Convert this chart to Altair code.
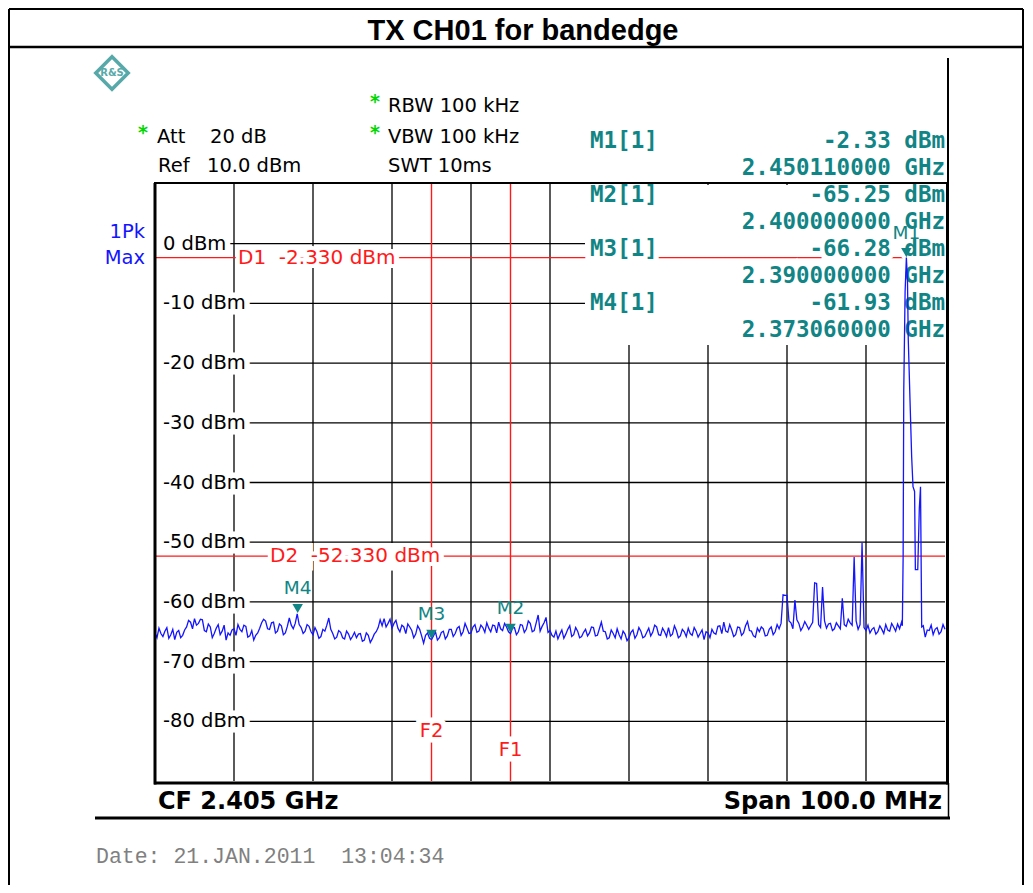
import altair as alt
import pandas as pd

# ---------------- data ----------------
start_mhz = 2355.0
step_mhz = 0.5
# trace samples at start + 0.5*i MHz
noise_dbm = [
    -65.2, -64.4, -65.8, -64.3, -65.5, -66.3, -64.8, -65.6, -64.2, -63.4,
    -62.8, -63.6, -63.0, -65.0, -64.2, -65.3, -63.8, -64.9, -66.4, -65.6,
    -64.5, -63.8, -65.0, -64.1, -65.7, -66.4, -65.2, -63.5, -63.2, -64.6,
    -63.4, -64.9, -64.0, -65.2, -62.7, -64.5, -62.0, -64.3, -64.9, -64.1,
    -65.5, -65.0, -65.8, -64.9, -62.7, -65.3, -65.9, -65.1, -66.2, -65.4,
    -65.8, -66.0, -65.3, -66.4, -65.6, -66.2, -65.0, -63.0, -62.8, -63.6,
    -64.4, -63.1, -65.0, -64.2, -63.7, -64.8, -65.4, -64.6, -66.9, -65.2,
    -66.3, -65.0, -66.0, -64.9, -65.7, -64.6, -65.3, -64.1, -65.0, -64.4,
    -65.2, -63.8, -64.9, -64.3, -63.5, -65.0, -64.0, -63.4, -64.8, -64.2,
    -65.3, -64.3, -65.0, -63.9, -64.6, -63.6, -64.8, -62.2, -64.1, -62.6,
    -64.8, -65.9, -66.2, -64.7, -65.4, -64.0, -65.5, -64.9, -65.8, -64.6,
    -65.2, -64.3, -65.6, -63.4, -65.0, -66.0, -65.3, -64.5, -66.2, -65.4,
    -66.0, -64.7, -65.5, -64.9, -65.8, -64.4, -65.1, -64.2, -65.6, -65.0,
    -64.3, -65.4, -64.8, -65.7, -65.0, -64.4, -65.6, -64.9, -65.3, -66.3,
    -65.2, -64.6, -65.4, -64.0, -63.4, -65.1, -64.7, -65.5, -64.3, -65.2,
    -63.3, -64.9, -65.9, -65.0, -64.5, -65.6, -64.2, -65.0, -64.5, -58.8,
    -58.9, -63.5, -59.7, -63.6, -64.2, -63.9, -64.0, -56.8, -63.8, -57.5,
    -64.4, -63.6, -64.5, -64.0, -59.4, -64.1, -63.5, -52.5, -64.6, -50.1,
    -64.8, -65.2, -64.3, -65.0, -64.6, -63.8, -64.9, -64.2, -63.7, -63.4,
    -64.0, -64.0, -64.0, -64.0, -64.0,
    -65.9, -64.8, -65.5, -64.3, -65.0, -64.6,
]
# trace samples half way between the above (start + 0.5*i + 0.25 MHz)
noise_mid_dbm = [
    -66.0, -65.3, -64.9, -66.1, -64.6, -65.1, -66.0, -64.7, -63.1, -64.5,
    -63.9, -62.9, -64.8, -63.7, -66.0, -64.4, -65.5, -63.9, -65.2, -64.7,
    -65.6, -64.6, -63.9, -65.9, -64.8, -65.6, -64.4, -62.9, -64.5, -63.5,
    -65.2, -63.7, -65.5, -64.1, -63.9, -63.6, -63.8, -65.3, -63.8, -65.0,
    -64.3, -66.1, -64.6, -63.9, -64.6, -66.2, -64.8, -66.0, -64.9, -66.3,
    -65.1, -65.4, -66.6, -65.2, -66.8, -65.4, -64.3, -64.0, -64.2, -62.9,
    -63.6, -64.4, -63.9, -65.3, -64.2, -66.0, -64.0, -65.7, -65.6, -66.1,
    -65.7, -66.4, -65.1, -66.2, -64.6, -65.8, -64.4, -65.6, -63.6, -65.3,
    -64.2, -65.1, -63.9, -65.1, -64.4, -63.9, -65.2, -64.5, -63.6, -65.0,
    -64.4, -65.5, -63.8, -65.1, -63.2, -65.0, -63.5, -64.9, -63.5, -65.1,
    -65.6, -64.9, -65.4, -66.1, -64.6, -65.8, -64.3, -66.0, -65.1, -65.7,
    -64.2, -65.7, -64.5, -64.9, -66.2, -64.7, -66.0, -65.5, -64.9, -66.5,
    -65.1, -66.1, -64.3, -66.0, -65.1, -65.7, -63.9, -65.5, -64.4, -65.8,
    -65.7, -64.0, -66.0, -64.6, -65.8, -65.3, -64.3, -65.9, -64.7, -65.0,
    -66.0, -65.2, -64.1, -65.3, -64.9, -63.8, -65.8, -64.2, -65.6, -64.0,
    -64.8, -65.7, -64.4, -64.2, -65.7, -64.6, -65.5, -63.8, -63.6, -58.9,
    -63.2, -64.5, -63.0, -64.8, -63.3, -64.6, -63.4, -56.9, -64.3, -63.2,
    -63.7, -64.8, -63.5, -64.5, -63.8, -62.9, -63.9, -63.2, -63.8, -64.3,
    -63.9, -64.6, -65.4, -64.0, -65.3, -64.7, -63.6, -64.9, -64.5, -63.5,
    -64.0, -64.0, -64.0, -64.0, -64.0,
    -64.7, -63.9, -64.6, -65.4, -63.8,
]
carrier_mhz = [2449.60, 2449.70, 2449.78, 2449.95, 2450.11, 2450.25, 2450.35,
               2450.57, 2450.78, 2450.95, 2451.15, 2451.25, 2451.55, 2451.75,
               2451.90, 2452.05]
carrier_dbm = [-64.0, -52.5, -24.5, -8.0, -2.33, -6.0, -16.0,
               -26.2, -35.7, -40.7, -41.5, -54.6, -54.6, -44.3,
               -40.7, -64.2]

marker_names = ["M1", "M2", "M3", "M4"]
marker_mhz = [2450.11, 2400.0, 2390.0, 2373.06]
marker_dbm = [-2.33, -65.25, -66.28, -61.93]

display_names = ["D1", "D2"]
display_dbm = [-2.33, -52.33]
freq_line_names = ["F1", "F2"]
freq_line_mhz = [2400.0, 2390.0]

grid_x_mhz = [2365, 2375, 2385, 2395, 2405, 2415, 2425, 2435, 2445]
grid_y_dbm = [0, -10, -20, -30, -40, -50, -60, -70, -80]
y_tick_labels = ["0 dBm", "-10 dBm", "-20 dBm", "-30 dBm", "-40 dBm",
                 "-50 dBm", "-60 dBm", "-70 dBm", "-80 dBm"]

# ---------------- build tables ----------------
noise_df = pd.concat([
    pd.DataFrame({"f": [start_mhz + step_mhz * i for i in range(len(noise_dbm))],
                  "dbm": noise_dbm}),
    pd.DataFrame({"f": [start_mhz + step_mhz * i + step_mhz / 2
                        for i in range(len(noise_mid_dbm))],
                  "dbm": noise_mid_dbm}),
])
noise_df = noise_df[(noise_df.f < carrier_mhz[0]) | (noise_df.f > carrier_mhz[-1])]
trace_df = pd.concat([noise_df, pd.DataFrame({"f": carrier_mhz, "dbm": carrier_dbm})])
trace_df = trace_df.sort_values("f").reset_index(drop=True)

markers_df = pd.DataFrame({"name": marker_names, "f": marker_mhz, "dbm": marker_dbm})
grid_x_df = pd.DataFrame({"f": grid_x_mhz})
grid_y_df = pd.DataFrame({"v": grid_y_dbm, "label": y_tick_labels})

# ---------------- layout helpers ----------------
OX, OY = 155, 184          # page position of plot origin
PW, PH = 790, 597
ONE = alt.Data(values=[{"k": 0}])
xs = alt.Scale(domain=[2355, 2455], nice=False, zero=False)
ys = alt.Scale(domain=[-90, 10], nice=False, zero=False)

TEAL = "#118585"
RED = "#ff1a1a"
BLUE = "#1414ff"
GREEN = "#00d800"
VER = "DejaVu Sans"
HALO = 11
NB = "\u00a0"   # keeps double spaces from collapsing


def hrule(x1, x2, y, w=2.0, color="black"):
    return alt.Chart(ONE).mark_rule(color=color, strokeWidth=w).encode(
        x=alt.value(x1 - OX), x2=alt.value(x2 - OX), y=alt.value(y - OY))


def vrule(x, y1, y2, w=2.0, color="black"):
    return alt.Chart(ONE).mark_rule(color=color, strokeWidth=w).encode(
        x=alt.value(x - OX), y=alt.value(y1 - OY), y2=alt.value(y2 - OY))


def txt(s, x, y, size=19.5, color="black", align="left", font=VER,
        weight="normal", halo=0):
    out = []
    enc = dict(x=alt.value(x - OX), y=alt.value(y - OY))
    if halo:
        out.append(alt.Chart(ONE).mark_text(
            text=s, align=align, baseline="middle", font=font, fontSize=size,
            fontWeight=weight, fill="white", stroke="white",
            strokeWidth=halo).encode(**enc))
    out.append(alt.Chart(ONE).mark_text(
        text=s, align=align, baseline="middle", font=font, fontSize=size,
        fontWeight=weight, color=color).encode(**enc))
    return out


layers = []

# page borders and header
layers += [vrule(9, 9, 885, 2), hrule(9, 1023, 9, 2), vrule(1023, 9, 885, 2),
           hrule(9, 1023, 47, 2.5)]
layers += txt("TX CH01 for bandedge", 523, 31, size=29, font="Liberation Sans",
              weight="bold", align="center")

# grid
layers.append(alt.Chart(grid_x_df).mark_rule(color="black", strokeWidth=1.3).encode(
    x=alt.X("f:Q", scale=xs, axis=None)))
layers.append(alt.Chart(grid_y_df).mark_rule(color="black", strokeWidth=1.3).encode(
    y=alt.Y("v:Q", scale=ys, axis=None), x=alt.value(8), x2=alt.value(PW)))

# y tick labels inside the diagram (with white halo)
for fill, extra in (("white", dict(stroke="white", strokeWidth=HALO)), ("black", {})):
    layers.append(alt.Chart(grid_y_df).mark_text(
        align="left", baseline="middle", font=VER, fontSize=19.5, fill=fill,
        **extra).encode(y=alt.Y("v:Q", scale=ys, axis=None), x=alt.value(163 - OX),
                        text="label:N"))

# white marker table box over grid
layers.append(alt.Chart(ONE).mark_rect(color="white").encode(
    x=alt.value(585 - OX), x2=alt.value(945 - OX),
    y=alt.value(185 - OY), y2=alt.value(345 - OY)))

# display lines and frequency lines
d_df = pd.DataFrame({"name": display_names, "dbm": display_dbm})
f_df = pd.DataFrame({"name": freq_line_names, "f": freq_line_mhz})
layers.append(alt.Chart(d_df).mark_rule(color=RED, strokeWidth=1.4).encode(
    y=alt.Y("dbm:Q", scale=ys, axis=None)))
layers.append(alt.Chart(f_df).mark_rule(color=RED, strokeWidth=1.4).encode(
    x=alt.X("f:Q", scale=xs, axis=None)))

# D labels (the white backing copy uses bars in place of spaces so that
# the line is hidden under the gaps too)
d_label_x = [238, 270]
for name, lvl, lx in zip(display_names, display_dbm, d_label_x):
    s = f"{name} {NB}{lvl:.3f} dBm"
    backing = s.replace(" ", "|").replace(NB, "|")
    for fill, extra, label in (("white", dict(stroke="white", strokeWidth=8), backing),
                               (RED, {}, s)):
        layers.append(alt.Chart(pd.DataFrame({"dbm": [lvl]})).mark_text(
            text=label, align="left", baseline="middle", font=VER, fontSize=20,
            fill=fill, **extra).encode(y=alt.Y("dbm:Q", scale=ys, axis=None),
                                       x=alt.value(lx - OX)))

# F labels
f_label_y = [750, 731]
for name, fr, ly in zip(freq_line_names, freq_line_mhz, f_label_y):
    for fill, extra in (("white", dict(stroke="white", strokeWidth=HALO)), (RED, {})):
        layers.append(alt.Chart(pd.DataFrame({"f": [fr]})).mark_text(
            text=name, align="center", baseline="middle", font=VER, fontSize=19.5,
            fill=fill, **extra).encode(x=alt.X("f:Q", scale=xs, axis=None),
                                       y=alt.value(ly - OY)))

# instrument settings text
layers += txt("*", 143, 133, size=19, color=GREEN, align="center", weight="bold")
layers += txt("Att", 157, 137)
layers += txt("20 dB", 210, 137)
layers += txt("Ref", 158, 166)
layers += txt("10.0 dBm", 207, 166)
layers += txt("*", 375, 102, size=19, color=GREEN, align="center", weight="bold")
layers += txt("RBW 100 kHz", 388, 106)
layers += txt("*", 375, 133, size=19, color=GREEN, align="center", weight="bold")
layers += txt("VBW 100 kHz", 388, 137)
layers += txt("SWT 10ms", 388, 166)
layers += txt("1Pk", 145, 232, color=BLUE, align="right")
layers += txt("Max", 145, 258, color=BLUE, align="right")

# logo
layers.append(alt.Chart(ONE).mark_point(
    shape="diamond", size=1050, filled=False, stroke=TEAL, strokeWidth=3.5).encode(
    x=alt.value(112 - OX), y=alt.value(73 - OY)))
layers += txt("R&S", 112, 73, size=10, color="#5aa9a9", align="center", weight="bold")

# marker table
MONO = "DejaVu Sans Mono"
for k, (nm, fr, lv) in enumerate(zip(marker_names, marker_mhz, marker_dbm)):
    y0 = 141 + 54 * k
    layers += txt(f"{nm}[1]", 590, y0, size=22.5, color=TEAL, font=MONO,
                  weight="bold", halo=HALO)
    layers += txt(f"{lv:.2f} dBm", 945, y0, size=22.5, color=TEAL, font=MONO,
                  weight="bold", align="right", halo=HALO)
    layers += txt(f"{fr / 1000:.9f} GHz", 945, y0 + 27, size=22.5, color=TEAL,
                  font=MONO, weight="bold", align="right", halo=HALO)

# trace
layers.append(alt.Chart(trace_df).mark_line(color=BLUE, strokeWidth=1.3).encode(
    x=alt.X("f:Q", scale=xs, axis=None), y=alt.Y("dbm:Q", scale=ys, axis=None),
    order="f:Q"))

# markers
layers.append(alt.Chart(markers_df).mark_point(
    shape="triangle-down", filled=True, color=TEAL, size=110, opacity=1,
    yOffset=-5).encode(x=alt.X("f:Q", scale=xs, axis=None),
                       y=alt.Y("dbm:Q", scale=ys, axis=None)))
layers.append(alt.Chart(markers_df).mark_text(
    color=TEAL, font=VER, fontSize=18.5, align="center", baseline="middle",
    dy=-25).encode(x=alt.X("f:Q", scale=xs, axis=None),
                   y=alt.Y("dbm:Q", scale=ys, axis=None), text="name:N"))

# diagram frame
layers += [vrule(155, 183, 784.5, 3), hrule(154, 949, 783, 3),
           hrule(154, 949, 183, 2), vrule(947.5, 183, 784.5, 3),
           vrule(948, 58, 183, 2), hrule(95, 950, 818, 3),
           vrule(948.5, 783, 818, 1.5)]

# bottom texts
layers += txt("CF 2.405 GHz", 158, 802, size=24, weight="bold")
layers += txt("Span 100.0 MHz", 942, 802, size=24, weight="bold", align="right")
layers += txt(f"Date: 21.JAN.2011 {NB}13:04:34", 96, 857, size=21.5,
              font="Liberation Mono", color="#808080")

chart = alt.layer(*layers).properties(
    width=PW, height=PH,
    padding={"left": OX - 8, "top": OY - 8, "right": 1017 - (OX - 8) - PW,
             "bottom": 877 - (OY - 8) - PH},
    autosize=alt.AutoSizeParams(type="none"),
).configure_view(strokeWidth=0)

chart.save("out.html", embed_options={"renderer": "svg", "actions": False})
